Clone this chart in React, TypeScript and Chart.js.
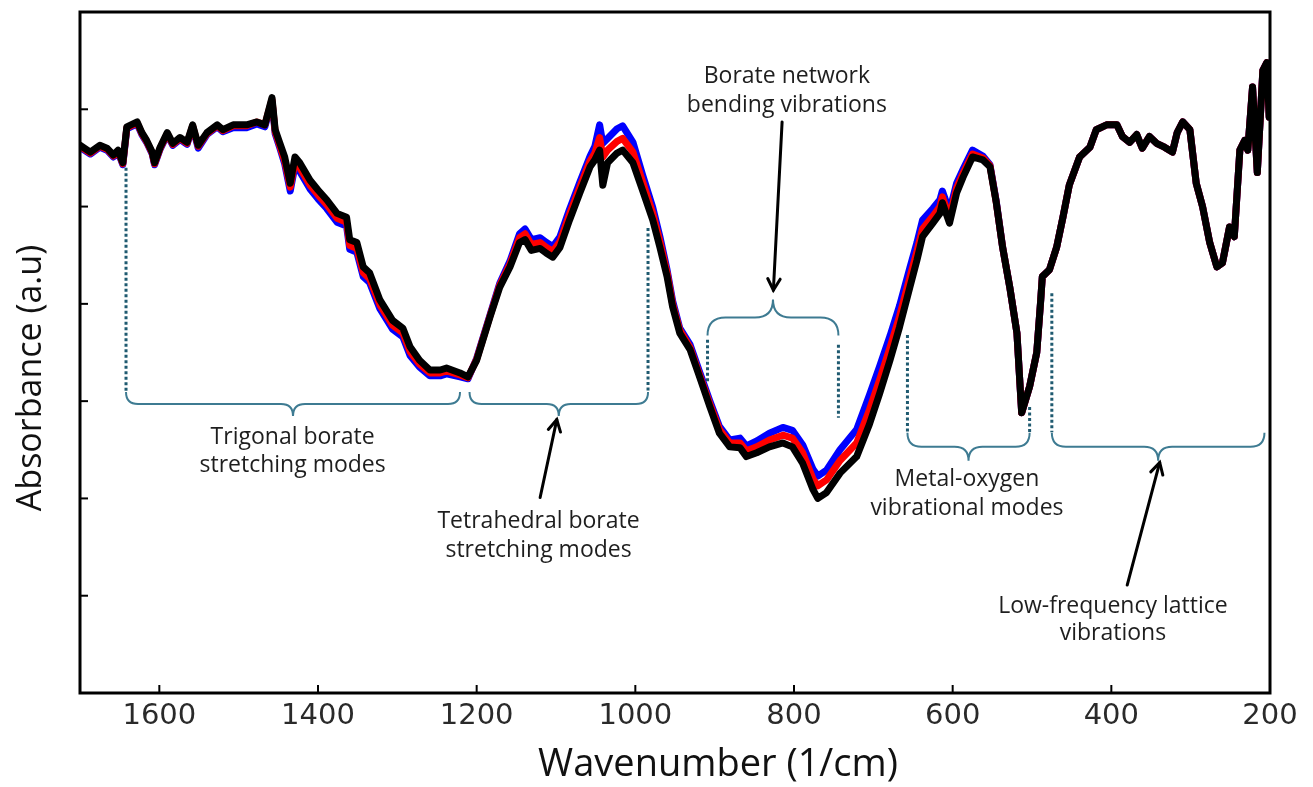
import React, { useEffect, useRef } from "react";
import { Chart, registerables } from "chart.js";

Chart.register(...registerables);

// Wavenumber (1/cm) sample positions
const wavenumbers = [
  1700, 1687, 1675, 1666, 1658, 1652, 1646, 1641, 1628, 1622,
  1616, 1609, 1606, 1599, 1590, 1583, 1574, 1565, 1558, 1551,
  1540, 1527, 1520, 1507, 1490, 1477, 1467, 1458, 1454, 1448,
  1442, 1435, 1429, 1423, 1410, 1400, 1389, 1376, 1364, 1360,
  1351, 1343, 1335, 1322, 1306, 1293, 1284, 1272, 1259, 1246,
  1238, 1221, 1211, 1200, 1183, 1171, 1158, 1146, 1139, 1131,
  1120, 1112, 1104, 1095, 1083, 1070, 1057, 1051, 1045, 1041,
  1035, 1023, 1016, 1003, 991, 978, 969, 960, 953, 944,
  931, 919, 906, 894, 881, 868, 860, 847, 831, 814,
  802, 789, 776, 770, 759, 742, 721, 705, 692, 679,
  667, 654, 645, 638, 625, 616, 613, 604, 595, 587,
  575, 562, 553, 545, 537, 528, 519, 513, 503, 494,
  489, 487, 478, 469, 461, 453, 440, 427, 419, 406,
  393, 386, 377, 368, 361, 352, 343, 333, 323, 317,
  310, 301, 293, 285, 276, 267, 260, 251, 245, 238,
  232, 228, 222, 216, 209, 204, 201,
];

const blackSeries = [
  5.63, 5.56, 5.63, 5.60, 5.53, 5.58, 5.45, 5.82, 5.87, 5.76,
  5.68, 5.56, 5.45, 5.61, 5.76, 5.65, 5.71, 5.66, 5.84, 5.63,
  5.76, 5.84, 5.79, 5.84, 5.84, 5.87, 5.84, 6.12, 5.79, 5.65,
  5.51, 5.24, 5.51, 5.45, 5.27, 5.17, 5.07, 4.93, 4.89, 4.66,
  4.63, 4.38, 4.32, 4.04, 3.83, 3.75, 3.56, 3.42, 3.32, 3.32,
  3.34, 3.29, 3.25, 3.42, 3.87, 4.17, 4.38, 4.63, 4.66, 4.55,
  4.57, 4.52, 4.48, 4.58, 4.86, 5.14, 5.41, 5.48, 5.58, 5.22,
  5.45, 5.55, 5.58, 5.45, 5.17, 4.86, 4.58, 4.28, 3.97, 3.70,
  3.53, 3.25, 2.94, 2.67, 2.53, 2.52, 2.43, 2.47, 2.53, 2.57,
  2.53, 2.36, 2.09, 2.00, 2.06, 2.26, 2.43, 2.76, 3.08, 3.42,
  3.76, 4.17, 4.45, 4.69, 4.83, 4.93, 5.04, 4.83, 5.14, 5.30,
  5.51, 5.48, 5.41, 5.04, 4.58, 4.17, 3.70, 2.88, 3.15, 3.50,
  4.04, 4.28, 4.35, 4.58, 4.89, 5.22, 5.51, 5.61, 5.79, 5.84,
  5.84, 5.72, 5.66, 5.74, 5.60, 5.72, 5.65, 5.61, 5.56, 5.76,
  5.87, 5.79, 5.24, 5.00, 4.63, 4.38, 4.42, 4.79, 4.69, 5.58,
  5.68, 5.58, 6.23, 5.35, 6.40, 6.48, 5.92,
];

const redSeries = [
  5.62, 5.55, 5.62, 5.59, 5.52, 5.57, 5.44, 5.81, 5.86, 5.75,
  5.67, 5.55, 5.44, 5.60, 5.75, 5.64, 5.70, 5.65, 5.83, 5.62,
  5.75, 5.83, 5.78, 5.83, 5.83, 5.87, 5.84, 6.10, 5.77, 5.62,
  5.47, 5.20, 5.46, 5.40, 5.22, 5.12, 5.02, 4.88, 4.84, 4.60,
  4.57, 4.32, 4.26, 3.99, 3.78, 3.70, 3.51, 3.38, 3.29, 3.29,
  3.31, 3.27, 3.24, 3.43, 3.88, 4.19, 4.41, 4.68, 4.72, 4.61,
  4.63, 4.58, 4.54, 4.64, 4.92, 5.20, 5.47, 5.55, 5.71, 5.51,
  5.58, 5.67, 5.70, 5.56, 5.26, 4.93, 4.64, 4.32, 4.00, 3.73,
  3.55, 3.27, 2.97, 2.71, 2.57, 2.57, 2.49, 2.53, 2.60, 2.65,
  2.62, 2.47, 2.20, 2.13, 2.19, 2.39, 2.57, 2.91, 3.22, 3.55,
  3.87, 4.27, 4.54, 4.77, 4.90, 5.00, 5.10, 4.89, 5.19, 5.34,
  5.54, 5.50, 5.42, 5.04, 4.58, 4.17, 3.70, 2.88, 3.15, 3.50,
  4.04, 4.28, 4.35, 4.58, 4.89, 5.22, 5.51, 5.61, 5.79, 5.84,
  5.84, 5.72, 5.66, 5.74, 5.60, 5.72, 5.65, 5.61, 5.56, 5.76,
  5.87, 5.79, 5.24, 5.00, 4.63, 4.38, 4.42, 4.79, 4.69, 5.58,
  5.68, 5.58, 6.23, 5.35, 6.40, 6.48, 5.92,
];

const blueSeries = [
  5.61, 5.54, 5.61, 5.58, 5.51, 5.56, 5.43, 5.80, 5.85, 5.74,
  5.66, 5.54, 5.43, 5.59, 5.74, 5.63, 5.69, 5.64, 5.82, 5.60,
  5.74, 5.82, 5.77, 5.81, 5.81, 5.85, 5.82, 6.08, 5.75, 5.60,
  5.44, 5.16, 5.42, 5.36, 5.18, 5.08, 4.98, 4.84, 4.80, 4.56,
  4.53, 4.28, 4.22, 3.95, 3.74, 3.66, 3.47, 3.35, 3.26, 3.26,
  3.28, 3.25, 3.23, 3.44, 3.89, 4.21, 4.44, 4.72, 4.77, 4.66,
  4.68, 4.63, 4.59, 4.69, 4.97, 5.25, 5.52, 5.62, 5.84, 5.65,
  5.70, 5.80, 5.83, 5.66, 5.33, 4.99, 4.69, 4.35, 4.03, 3.75,
  3.58, 3.30, 3.00, 2.74, 2.60, 2.62, 2.54, 2.59, 2.67, 2.73,
  2.70, 2.55, 2.30, 2.23, 2.29, 2.50, 2.71, 3.06, 3.36, 3.67,
  3.98, 4.37, 4.63, 4.86, 4.98, 5.07, 5.16, 4.95, 5.24, 5.38,
  5.58, 5.52, 5.43, 5.05, 4.58, 4.17, 3.70, 2.88, 3.15, 3.50,
  4.04, 4.28, 4.35, 4.58, 4.89, 5.22, 5.51, 5.61, 5.79, 5.84,
  5.84, 5.72, 5.66, 5.74, 5.60, 5.72, 5.65, 5.61, 5.56, 5.76,
  5.87, 5.79, 5.24, 5.00, 4.63, 4.38, 4.42, 4.79, 4.69, 5.58,
  5.68, 5.58, 6.23, 5.35, 6.40, 6.48, 5.92,
];

const xTickValues = [1600, 1400, 1200, 1000, 800, 600, 400, 200];
const yTickValues = [1, 2, 3, 4, 5, 6];

const xTitle = "Wavenumber (1/cm)";
const yTitle = "Absorbance (a.u)";

// Annotation geometry (data coordinates)
const braces = [
  { from: 1642, to: 1221, y: 2.97, dir: 1, size: 12 },
  { from: 1209, to: 984, y: 2.97, dir: 1, size: 12 },
  { from: 909, to: 744, y: 3.86, dir: -1, size: 18 },
  { from: 657, to: 503, y: 2.53, dir: 1, size: 14 },
  { from: 475, to: 207, y: 2.53, dir: 1, size: 14 },
];

const dottedGuides = [
  { x: 1642, top: 5.4, bottom: 3.09 },
  { x: 984, top: 4.78, bottom: 3.09 },
  { x: 909, top: 3.63, bottom: 3.2 },
  { x: 744, top: 3.58, bottom: 2.83 },
  { x: 657, top: 3.68, bottom: 2.68 },
  { x: 503, top: 2.94, bottom: 2.68 },
  { x: 475, top: 4.11, bottom: 2.68 },
];

const arrows = [
  { fromX: 1120, fromY: 2.01, toX: 1099, toY: 2.81 },
  { fromX: 815, fromY: 5.87, toX: 826, toY: 4.14 },
  { fromX: 380, fromY: 1.11, toX: 339, toY: 2.37 },
];

const noteLabels = [
  { x: 1432, y: 2.63, text: "Trigonal borate" },
  { x: 1432, y: 2.34, text: "stretching modes" },
  { x: 1122, y: 1.76, text: "Tetrahedral borate" },
  { x: 1122, y: 1.47, text: "stretching modes" },
  { x: 809, y: 6.34, text: "Borate network" },
  { x: 809, y: 6.04, text: "bending vibrations" },
  { x: 582, y: 2.19, text: "Metal-oxygen" },
  { x: 582, y: 1.9, text: "vibrational modes" },
  { x: 398, y: 0.89, text: "Low-frequency lattice" },
  { x: 398, y: 0.61, text: "vibrations" },
];

const annotationPlugin = {
  id: "spectrumAnnotations",
  afterDatasetsDraw(chart: any) {
    const { ctx, chartArea, scales } = chart;
    const xs = scales.x;
    const ys = scales.y;
    const px = (v: number) => xs.getPixelForValue(v);
    const py = (v: number) => ys.getPixelForValue(v);
    ctx.save();

    // dotted guides
    ctx.strokeStyle = "#1f5a70";
    ctx.lineWidth = 3;
    ctx.setLineDash([3, 2.5]);
    for (const d of dottedGuides) {
      ctx.beginPath();
      ctx.moveTo(px(d.x), py(d.top));
      ctx.lineTo(px(d.x), py(d.bottom));
      ctx.stroke();
    }
    ctx.setLineDash([]);

    // braces
    ctx.strokeStyle = "#3e7b92";
    ctx.lineWidth = 2;
    for (const b of braces) {
      const x1 = Math.min(px(b.from), px(b.to));
      const x2 = Math.max(px(b.from), px(b.to));
      const yl = py(b.y);
      const r = b.size;
      const s = b.dir;
      const xm = (x1 + x2) / 2;
      ctx.beginPath();
      ctx.moveTo(x1, yl - s * r);
      ctx.quadraticCurveTo(x1, yl, x1 + r, yl);
      ctx.lineTo(xm - r, yl);
      ctx.quadraticCurveTo(xm, yl, xm, yl + s * r);
      ctx.quadraticCurveTo(xm, yl, xm + r, yl);
      ctx.lineTo(x2 - r, yl);
      ctx.quadraticCurveTo(x2, yl, x2, yl - s * r);
      ctx.stroke();
    }

    // arrows
    ctx.strokeStyle = "#000";
    ctx.lineWidth = 3;
    ctx.lineCap = "round";
    for (const a of arrows) {
      const x0 = px(a.fromX), y0 = py(a.fromY), x1 = px(a.toX), y1 = py(a.toY);
      ctx.beginPath();
      ctx.moveTo(x0, y0);
      ctx.lineTo(x1, y1);
      ctx.stroke();
      const ang = Math.atan2(y1 - y0, x1 - x0);
      const h = 13;
      ctx.beginPath();
      ctx.moveTo(x1 - h * Math.cos(ang - 0.5), y1 - h * Math.sin(ang - 0.5));
      ctx.lineTo(x1, y1);
      ctx.lineTo(x1 - h * Math.cos(ang + 0.5), y1 - h * Math.sin(ang + 0.5));
      ctx.stroke();
    }

    // notes
    ctx.fillStyle = "#1e1e1e";
    ctx.font = "23px 'Open Sans'";
    ctx.textAlign = "center";
    ctx.textBaseline = "middle";
    for (const n of noteLabels) {
      ctx.fillText(n.text, px(n.x), py(n.y));
    }

    // frame
    ctx.strokeStyle = "#000";
    ctx.lineWidth = 3;
    ctx.lineCap = "butt";
    ctx.strokeRect(chartArea.left, chartArea.top, chartArea.right - chartArea.left, chartArea.bottom - chartArea.top);

    // inward tick marks
    ctx.lineWidth = 2;
    for (const t of xTickValues) {
      const x = px(t);
      ctx.beginPath();
      ctx.moveTo(x, chartArea.bottom);
      ctx.lineTo(x, chartArea.bottom - 8);
      ctx.stroke();
    }
    for (const t of yTickValues) {
      const y = py(t);
      ctx.beginPath();
      ctx.moveTo(chartArea.left, y);
      ctx.lineTo(chartArea.left + 8, y);
      ctx.stroke();
    }

    // axis titles
    ctx.fillStyle = "#111";
    ctx.font = "38px 'Open Sans'";
    ctx.textAlign = "center";
    ctx.textBaseline = "middle";
    ctx.fillText(xTitle, 718, 765);
    ctx.translate(31, 378);
    ctx.rotate(-Math.PI / 2);
    ctx.font = "34px 'Open Sans'";
    ctx.fillText(yTitle, 0, 0);
    ctx.restore();
  },
};

export default function App() {
  const canvasRef = useRef<HTMLCanvasElement | null>(null);

  useEffect(() => {
    const canvas = canvasRef.current;
    if (!canvas) return;
    const mk = (vals: number[]) => wavenumbers.map((w, i) => ({ x: w, y: vals[i] }));
    const chart = new Chart(canvas, {
      type: "line",
      data: {
        datasets: [
          { label: "Sample C", data: mk(blackSeries), borderColor: "#000000", borderWidth: 7 },
          { label: "Sample B", data: mk(redSeries), borderColor: "#ff0000", borderWidth: 7 },
          { label: "Sample A", data: mk(blueSeries), borderColor: "#0000ff", borderWidth: 7 },
        ],
      },
      options: {
        responsive: false,
        animation: false,
        layout: { padding: { left: 0, top: 12, right: 43, bottom: 0 } },
        elements: { point: { radius: 0 }, line: { tension: 0, borderJoinStyle: "round", borderCapStyle: "round" } },
        plugins: { legend: { display: false }, tooltip: { enabled: false } },
        scales: {
          x: {
            type: "linear",
            reverse: true,
            min: 200,
            max: 1700,
            grid: { display: false, drawTicks: false },
            border: { display: false },
            ticks: {
              font: { family: "DejaVu Sans", size: 29 },
              color: "#2a2a2a",
              padding: 6,
              callback: (v: any) => String(v),
            },
            afterBuildTicks: (s: any) => {
              s.ticks = xTickValues.map((v) => ({ value: v }));
            },
            afterFit: (s: any) => {
              s.height = 94;
            },
          },
          y: {
            type: "linear",
            min: 0,
            max: 7,
            grid: { display: false, drawTicks: false },
            border: { display: false },
            ticks: { display: false },
            afterBuildTicks: (s: any) => {
              s.ticks = yTickValues.map((v) => ({ value: v }));
            },
            afterFit: (s: any) => {
              s.width = 80;
            },
          },
        },
      },
      plugins: [annotationPlugin],
    });
    return () => chart.destroy();
  }, []);

  return (
    <div style={{ position: "fixed", left: 0, top: 0, width: 1313, height: 787, background: "#fff" }}>
      <canvas ref={canvasRef} width={1313} height={787} style={{ display: "block" }} />
    </div>
  );
}
